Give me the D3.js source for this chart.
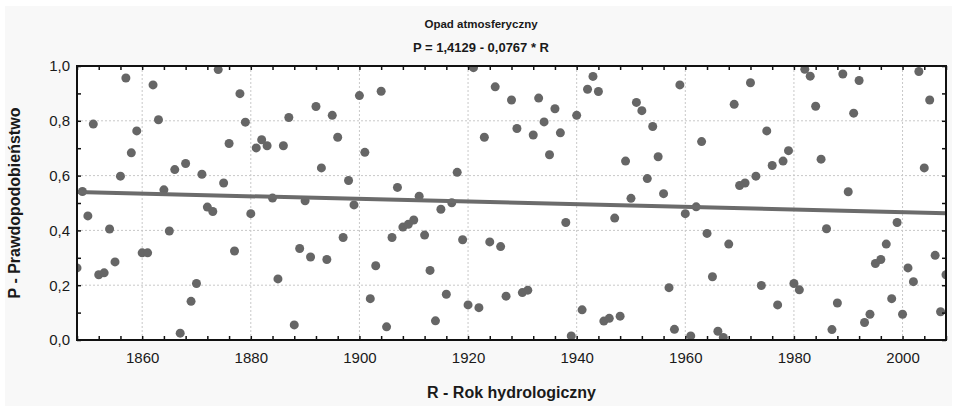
<!DOCTYPE html>
<html>
<head>
<meta charset="utf-8">
<script src="https://cdn.jsdelivr.net/npm/d3@7"></script>
<style>
  html, body { margin: 0; padding: 0; background: #ffffff; }
  svg { display: block; }
  text { font-family: "Liberation Sans", Arial, sans-serif; fill: #1a1a1a; }
</style>
</head>
<body>
<svg id="chart" width="957" height="406"></svg>
<script>
// ---- data ----
const startYear = 1848;
const probabilities = [
  0.263, 0.542, 0.453, 0.788, 0.238, 0.245, 0.405, 0.285, 0.598, 0.956, // 1848-1857
  0.683, 0.763, 0.318, 0.318, 0.931, 0.804, 0.548, 0.398, 0.622, 0.025, // 1858-1867
  0.644, 0.141, 0.206, 0.605, 0.485, 0.469, 0.987, 0.573, 0.717, 0.325, // 1868-1877
  0.899, 0.795, 0.461, 0.701, 0.731, 0.709, 0.518, 0.223, 0.709, 0.812, // 1878-1887
  0.055, 0.334, 0.508, 0.303, 0.852, 0.628, 0.294, 0.820, 0.740, 0.374, // 1888-1897
  0.582, 0.493, 0.892, 0.685, 0.151, 0.271, 0.908, 0.048, 0.374, 0.557, // 1898-1907
  0.412, 0.422, 0.438, 0.525, 0.383, 0.254, 0.070, 0.477, 0.167, 0.501, // 1908-1917
  0.612, 0.366, 0.128, 0.994, 0.118, 0.740, 0.358, 0.924, 0.341, 0.160, // 1918-1927
  0.876, 0.772, 0.173, 0.182, 0.748, 0.883, 0.796, 0.676, 0.844, 0.756, // 1928-1937
  0.429, 0.015, 0.820, 0.110, 0.915, 0.962, 0.907, 0.069, 0.079, 0.445, // 1938-1947
  0.087, 0.653, 0.517, 0.867, 0.837, 0.589, 0.779, 0.669, 0.534, 0.191, // 1948-1957
  0.039, 0.931, 0.461, 0.015, 0.486, 0.724, 0.389, 0.231, 0.032, 0.009, // 1958-1967
  0.350, 0.860, 0.564, 0.573, 0.939, 0.598, 0.199, 0.763, 0.637, 0.128, // 1968-1977
  0.653, 0.691, 0.206, 0.183, 0.988, 0.963, 0.853, 0.660, 0.406, 0.038, // 1978-1987
  0.135, 0.971, 0.541, 0.828, 0.947, 0.064, 0.094, 0.279, 0.294, 0.350, // 1988-1997
  0.151, 0.429, 0.094, 0.263, 0.213, 0.980, 0.628, 0.876, 0.309, 0.103, // 1998-2007
  0.238                                                                  // 2008
];
const years = probabilities.map((_, i) => startYear + i);

const trendYears = [1848, 2008];
const trendValues = [0.540, 0.463];

const xDomain = [1848, 2008];
const yDomain = [0, 1];
const xTickLabels = [1860, 1880, 1900, 1920, 1940, 1960, 1980, 2000];
const yTickLabels = ["0,0", "0,2", "0,4", "0,6", "0,8", "1,0"];
const yTickValues = [0, 0.2, 0.4, 0.6, 0.8, 1.0];

const titleLines = ["Opad atmosferyczny", "P = 1,4129 - 0,0767 * R"];
const xTitle = "R - Rok hydrologiczny";
const yTitle = "P - Prawdopodobieństwo";

// ---- layout ----
const W = 957, H = 406;
const plot = { left: 77, right: 946, top: 66, bottom: 340 };

const svg = d3.select("#chart");

// outer panel
svg.append("rect").attr("x", 0).attr("y", 0).attr("width", W).attr("height", H).attr("fill", "#ffffff");
svg.append("rect").attr("x", 5).attr("y", 6).attr("width", W - 10).attr("height", H - 6).attr("fill", "#f8f8f8");

// plot background
svg.append("rect")
  .attr("x", plot.left).attr("y", plot.top)
  .attr("width", plot.right - plot.left).attr("height", plot.bottom - plot.top)
  .attr("fill", "#ffffff");

const x = d3.scaleLinear().domain(xDomain).range([plot.left, plot.right]);
const y = d3.scaleLinear().domain(yDomain).range([plot.bottom, plot.top]);

// grid
const grid = svg.append("g").attr("stroke", "#c8c8c8").attr("stroke-width", 1).attr("stroke-dasharray", "2,2");
xTickLabels.forEach(t => {
  grid.append("line").attr("x1", x(t)).attr("x2", x(t)).attr("y1", plot.top).attr("y2", plot.bottom);
});
yTickValues.slice(1, -1).forEach(t => {
  grid.append("line").attr("x1", plot.left).attr("x2", plot.right).attr("y1", y(t)).attr("y2", y(t));
});

// clip
svg.append("clipPath").attr("id", "clip")
  .append("rect").attr("x", plot.left).attr("y", plot.top)
  .attr("width", plot.right - plot.left).attr("height", plot.bottom - plot.top);

const marks = svg.append("g").attr("clip-path", "url(#clip)");

// points
marks.selectAll("circle").data(years).join("circle")
  .attr("cx", (d) => x(d))
  .attr("cy", (d, i) => y(probabilities[i]))
  .attr("r", 4.5)
  .attr("fill", "#666666");

// trend line
const line = d3.line().x(d => x(d[0])).y(d => y(d[1]));
marks.append("path")
  .datum(trendYears.map((yr, i) => [yr, trendValues[i]]))
  .attr("d", line)
  .attr("fill", "none")
  .attr("stroke", "#6b6b6b")
  .attr("stroke-width", 4);

// axes with inward minor ticks
const minorX = d3.range(1848, 2009, 4);
const minorY = d3.range(0, 11).map(v => v / 10);

const bottomAxis = d3.axisBottom(x).tickValues(minorX).tickSize(-4).tickFormat("");
const topAxis = d3.axisTop(x).tickValues(minorX).tickSize(-4).tickFormat("");
const leftAxis = d3.axisLeft(y).tickValues(minorY).tickSize(-4).tickFormat("");
const rightAxis = d3.axisRight(y).tickValues(minorY).tickSize(-4).tickFormat("");

function styleAxis(g) {
  g.select(".domain").remove();
  g.selectAll(".tick line").attr("stroke", "#111").attr("stroke-width", 1.5);
}
svg.append("g").attr("transform", `translate(0,${plot.bottom})`).call(bottomAxis).call(styleAxis);
svg.append("g").attr("transform", `translate(0,${plot.top})`).call(topAxis).call(styleAxis);
svg.append("g").attr("transform", `translate(${plot.left},0)`).call(leftAxis).call(styleAxis);
svg.append("g").attr("transform", `translate(${plot.right},0)`).call(rightAxis).call(styleAxis);

// frame
svg.append("rect")
  .attr("x", plot.left).attr("y", plot.top)
  .attr("width", plot.right - plot.left).attr("height", plot.bottom - plot.top)
  .attr("fill", "none").attr("stroke", "#111").attr("stroke-width", 2);

// tick labels
const xLabelAxis = d3.axisBottom(x).tickValues(xTickLabels).tickSize(0).tickPadding(12).tickFormat(d3.format("d"));
svg.append("g").attr("transform", `translate(0,${plot.bottom})`).call(xLabelAxis)
  .call(g => { g.select(".domain").remove(); g.selectAll("text").attr("font-size", 15).attr("fill", "#1a1a1a").attr("font-family", "Liberation Sans, Arial, sans-serif"); });

const yLabelAxis = d3.axisLeft(y).tickValues(yTickValues).tickSize(0).tickPadding(7)
  .tickFormat((d, i) => yTickLabels[i]);
svg.append("g").attr("transform", `translate(${plot.left},0)`).call(yLabelAxis)
  .call(g => { g.select(".domain").remove(); g.selectAll("text").attr("font-size", 15).attr("fill", "#1a1a1a").attr("font-family", "Liberation Sans, Arial, sans-serif"); });

// titles
svg.append("text").attr("x", 481).attr("y", 28).attr("text-anchor", "middle")
  .attr("font-size", 11.5).attr("font-weight", "bold").text(titleLines[0]);
svg.append("text").attr("x", 481).attr("y", 52).attr("text-anchor", "middle")
  .attr("font-size", 13).attr("font-weight", "bold").text(titleLines[1]);

svg.append("text").attr("x", (plot.left + plot.right) / 2).attr("y", 398).attr("text-anchor", "middle")
  .attr("font-size", 16).attr("font-weight", "bold").text(xTitle);

svg.append("text")
  .attr("transform", `translate(20,${(plot.top + plot.bottom) / 2}) rotate(-90)`)
  .attr("text-anchor", "middle")
  .attr("font-size", 16).attr("font-weight", "bold").text(yTitle);
</script>
</body>
</html>
